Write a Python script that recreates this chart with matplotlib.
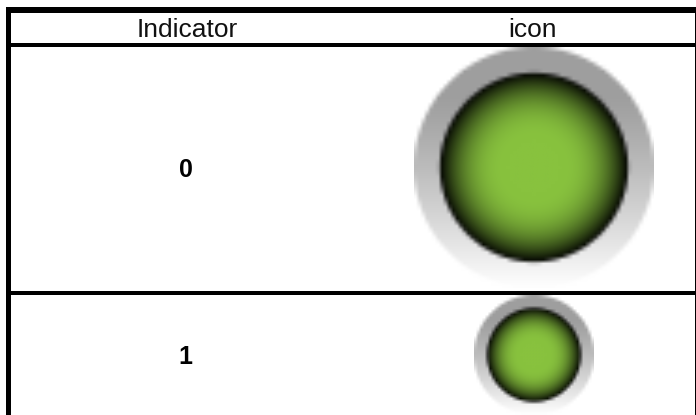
import matplotlib
matplotlib.use("Agg")
import matplotlib.pyplot as plt
import numpy as np

plt.rcParams['font.family'] = ['Liberation Sans', 'DejaVu Sans']

# table contents
headers = ["Indicator", "icon"]
indicators = ["0", "1"]
# icon radius in pixels for each row
icon_radius = [120, 60]
icon_center_y = [168, 355]
icon_px = [64, 40]


def make_icon(n):
    # low resolution button icon, upscaled later so it looks blocky like the original
    yy, xx = np.mgrid[0:n, 0:n]
    x = (xx + 0.5) / n * 2 - 1
    y = (yy + 0.5) / n * 2 - 1
    r = np.sqrt(x ** 2 + y ** 2)

    img = np.ones((n, n, 4))
    # grey ring, vertical fade
    t = np.clip((y + 1) / 2, 0, 1)
    grey = 0.62 + 0.38 * np.clip((t - 0.2) / 0.8, 0, 1) ** 1.2
    img[..., 0] = grey
    img[..., 1] = grey
    img[..., 2] = grey
    img[..., 3] = np.clip((1 - r) * n / 2 + 0.5, 0, 1)

    # green ball
    inner = 0.785
    rr = r / inner
    shade = 1 - np.clip((rr - 0.3) / 0.7, 0, 1) ** 2.3
    green = np.array([136, 194, 62]) / 255
    ball = shade[..., None] * green
    edge = np.clip((inner - r) * n / 2 + 0.5, 0, 1)[..., None]
    img[..., :3] = img[..., :3] * (1 - edge) + ball * edge
    img[..., 3] = np.maximum(img[..., 3], edge[..., 0])
    return img


fig = plt.figure(figsize=(6.96, 4.15), dpi=100)
ax = fig.add_axes([0, 0, 1, 1])
ax.axis("off")

# icons
for i in range(len(indicators)):
    rad = icon_radius[i]
    cy = icon_center_y[i]
    ax.imshow(make_icon(icon_px[i]), extent=(533.5 - rad, 533.5 + rad, cy + rad, cy - rad),
              interpolation="bilinear", zorder=1)
ax.set_xlim(0, 696)
ax.set_ylim(415, 0)
ax.set_aspect("auto")

# table borders
ax.fill_between([6, 696], 7, 13, color="black", lw=0, zorder=3)
ax.fill_between([6, 696], 43, 47, color="black", lw=0, zorder=3)
ax.fill_between([6, 696], 291, 295, color="black", lw=0, zorder=3)
ax.fill_between([6, 11], 7, 415, color="black", lw=0, zorder=3)
ax.fill_between([695, 696], 7, 415, color="black", lw=0, zorder=3)

# text
ax.text(187, 30, headers[0], ha="center", va="center", fontsize=19, color="#111111")
ax.text(533, 30, headers[1], ha="center", va="center", fontsize=19, color="#111111")
for i, lab in enumerate(indicators):
    ax.text(185.5, icon_center_y[i] + 2, lab, ha="center", va="center", fontsize=18, fontweight="bold", color="black")

plt.savefig("out.png", dpi=100)
